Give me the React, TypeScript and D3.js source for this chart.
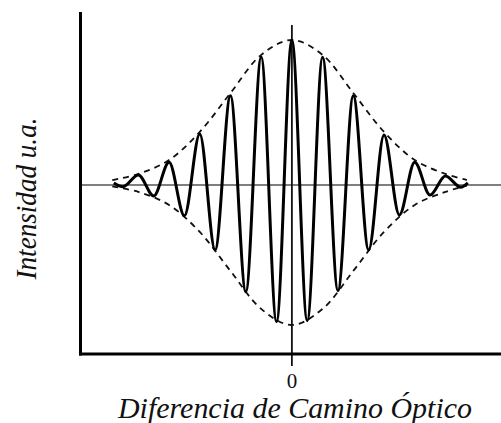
import React from "react";
import * as d3 from "d3";

// Interferogram: positions of the fringe extrema (in fringe periods) and their intensity (a.u.)
const OPD = [
  -5.8, -5.5, -5, -4.5, -4, -3.5, -3, -2.5, -2, -1.5, -1, -0.5, 0,
  0.5, 1, 1.5, 2, 2.5, 3, 3.5, 4, 4.5, 5, 5.5, 5.73,
];
const INTENSITY = [
  0.014, -0.012, 0.069, -0.076, 0.157, -0.212, 0.352, -0.448, 0.616, -0.736, 0.883, -0.943, 1.0,
  -0.936, 0.881, -0.729, 0.616, -0.448, 0.345, -0.207, 0.157, -0.069, 0.062, -0.016, 0.014,
];

// Gaussian envelope (dashed), upper and lower branches
const ENV_OPD = [-5.85, -5, -4, -3, -2, -1, 0, 1, 2, 3, 4, 5, 5.7];
const ENV_UPPER = [0.034, 0.076, 0.172, 0.366, 0.634, 0.897, 1.0, 0.897, 0.634, 0.366, 0.172, 0.076, 0.034];
const ENV_LOWER = [-0.01, -0.048, -0.138, -0.324, -0.593, -0.855, -0.966, -0.855, -0.593, -0.324, -0.138, -0.048, -0.004];

const X_TICKS = [0];
const X_LABEL = "Diferencia de Camino Óptico";
const Y_LABEL = "Intensidad u.a.";

const W = 501;
const H = 423;

const SERIF = "Liberation Serif";

export default function App() {
  const x = d3.scaleLinear().domain([-6.9, 6.81]).range([80, 501]);
  const y = d3.scaleLinear().domain([-1.166, 1.193]).range([354, 12]);

  const signal = d3
    .line<number>()
    .x((_, i) => x(OPD[i]))
    .y((d) => y(d))
    .curve(d3.curveMonotoneX)(INTENSITY) as string;

  const envLine = (vals: number[]) =>
    d3
      .line<number>()
      .x((_, i) => x(ENV_OPD[i]))
      .y((d) => y(d))
      .curve(d3.curveCatmullRom)(vals) as string;

  return (
    <svg
      width={W}
      height={H}
      style={{ position: "fixed", left: 0, top: 0, background: "#fff" }}
    >
      <rect x={0} y={0} width={W} height={H} fill="#fff" />
      {/* zero line */}
      <line x1={x(-6.9)} x2={W} y1={y(0)} y2={y(0)} stroke="#555" strokeWidth={1.6} />
      {/* zero OPD line with tick */}
      {X_TICKS.map((t) => (
        <g key={t}>
          <line x1={x(t)} x2={x(t)} y1={25} y2={366} stroke="#111" strokeWidth={1.8} />
          <text
            x={x(t)}
            y={388}
            textAnchor="middle"
            style={{ fontFamily: SERIF, fontSize: 21 }}
            fill="#111"
          >
            {t}
          </text>
        </g>
      ))}
      {/* envelope */}
      <path d={envLine(ENV_UPPER)} fill="none" stroke="#111" strokeWidth={1.8} strokeDasharray="6,5" />
      <path d={envLine(ENV_LOWER)} fill="none" stroke="#111" strokeWidth={1.8} strokeDasharray="6,5" />
      {/* interferogram */}
      <path d={signal} fill="none" stroke="#000" strokeWidth={3} strokeLinejoin="round" />
      {/* axes */}
      <line x1={80.5} x2={80.5} y1={12} y2={355.5} stroke="#000" strokeWidth={3} />
      <line x1={79} x2={W} y1={354} y2={354} stroke="#000" strokeWidth={3} />
      {/* axis titles */}
      <text
        x={295}
        y={418}
        textAnchor="middle"
        textLength={354}
        lengthAdjust="spacingAndGlyphs"
        style={{ fontFamily: SERIF, fontStyle: "italic", fontSize: 29 }}
        fill="#111"
      >
        {X_LABEL}
      </text>
      <text
        transform="translate(36,198.5) rotate(-90)"
        textAnchor="middle"
        textLength={162}
        lengthAdjust="spacingAndGlyphs"
        style={{ fontFamily: SERIF, fontStyle: "italic", fontSize: 29 }}
        fill="#111"
      >
        {Y_LABEL}
      </text>
    </svg>
  );
}
